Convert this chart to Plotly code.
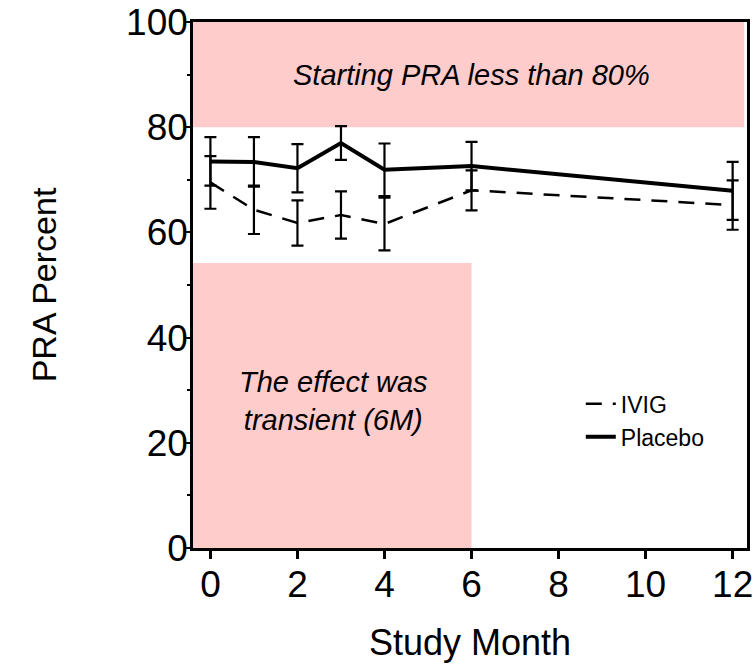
import plotly.graph_objects as go

months = [0, 1, 2, 3, 4, 6, 12]
placebo = [73.5, 73.4, 72.2, 77.0, 71.9, 72.6, 67.9]
placebo_err = [4.6, 4.7, 4.6, 3.2, 5.0, 4.6, 5.5]
ivig = [69.5, 64.3, 61.8, 63.3, 61.6, 68.0, 65.2]
ivig_err = [5.0, 4.6, 4.3, 4.5, 5.0, 3.8, 4.7]

x_ticks = [0, 2, 4, 6, 8, 10, 12]
y_ticks = [0, 20, 40, 60, 80, 100]

top_note = "Starting PRA less than 80%"
box_note = "The effect was<br>transient (6M)"

FONT = "Liberation Sans, Arial, sans-serif"

fig = go.Figure()

fig.add_trace(go.Scatter(
    x=months, y=ivig, name="IVIG", mode="lines",
    line=dict(color="black", width=2.5, dash="16px,11px"),
    error_y=dict(type="data", array=ivig_err, visible=True,
                 color="black", thickness=2.2, width=6),
))
fig.add_trace(go.Scatter(
    x=months, y=placebo, name="Placebo", mode="lines",
    line=dict(color="black", width=4),
    error_y=dict(type="data", array=placebo_err, visible=True,
                 color="black", thickness=2.2, width=6),
))

pink = "#FFCCCC"
fig.add_shape(type="rect", xref="x domain", yref="y", x0=0, x1=0.995, y0=80, y1=100,
              fillcolor=pink, line=dict(width=0), layer="below")
fig.add_shape(type="rect", xref="x domain", yref="y", x0=0, x1=(6 + 0.4) / 12.73, y0=0, y1=54.2,
              fillcolor=pink, line=dict(width=0), layer="below")

fig.add_annotation(x=6, y=90, xref="x", yref="y", text=top_note, showarrow=False,
                   font=dict(family=FONT, size=29, color="black", style="italic"))
fig.add_annotation(x=2.82, y=28, xref="x", yref="y", text=box_note, showarrow=False,
                   font=dict(family=FONT, size=29, color="black", style="italic"))

fig.update_layout(
    width=753, height=669,
    margin=dict(l=193, r=6, t=22, b=121, autoexpand=False),
    paper_bgcolor="white", plot_bgcolor="white",
    font=dict(family=FONT, color="black"),
    showlegend=True,
    legend=dict(x=0.7, y=0.315, xanchor="left", yanchor="top",
                bgcolor="rgba(0,0,0,0)", font=dict(size=23, family=FONT),
                tracegroupgap=0, itemwidth=30),
)
fig.update_xaxes(
    range=[-0.4, 12.33], tickvals=x_ticks, ticktext=[str(v) for v in x_ticks],
    automargin=False, ticklabeloverflow="allow",
    showgrid=False, zeroline=False, showline=True, linecolor="black", linewidth=2.5,
    mirror=True, ticks="outside", ticklen=8, tickwidth=2.5, tickcolor="black",
    ticklabelstandoff=-6,
    tickfont=dict(size=37), title=dict(text="Study Month", font=dict(size=36), standoff=26),
)
fig.update_yaxes(
    range=[0, 100], tickvals=y_ticks, ticktext=[str(v) for v in y_ticks],
    automargin=False, ticklabeloverflow="allow",
    showgrid=False, zeroline=False, showline=True, linecolor="black", linewidth=2.5,
    mirror=True, ticks="outside", ticklen=4, tickwidth=2, tickcolor="black",
    ticklabelstandoff=-9,
    minor=dict(tickvals=[10, 30, 50, 70, 90], ticks="outside", ticklen=3, tickwidth=1.5, tickcolor="black"),
    tickfont=dict(size=37), title=dict(text="PRA Percent", font=dict(size=34), standoff=60),
)

fig.write_html("out.html")
